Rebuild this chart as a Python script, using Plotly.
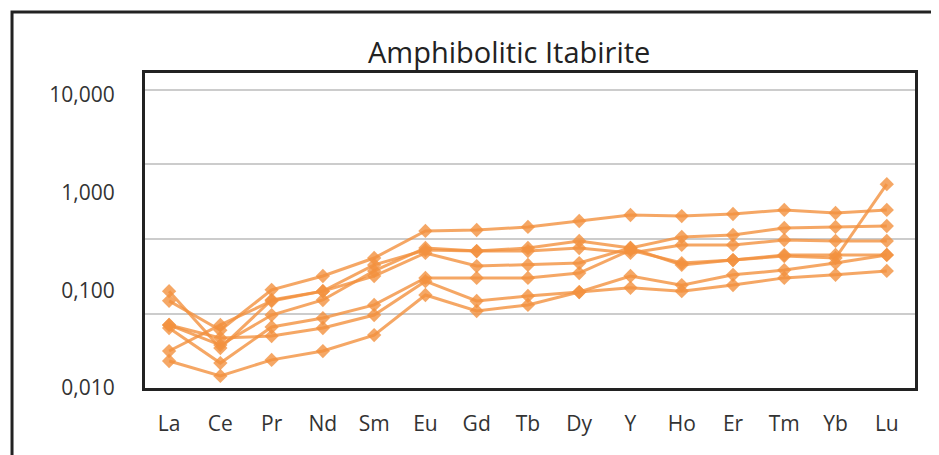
import plotly.graph_objects as go

elements = ["La", "Ce", "Pr", "Nd", "Sm", "Eu", "Gd", "Tb", "Dy", "Y", "Ho", "Er", "Tm", "Yb", "Lu"]

s1 = [0.078, 0.039, 0.101, 0.140, 0.214, 0.405, 0.414, 0.445, 0.512, 0.590, 0.575, 0.604, 0.664, 0.618, 0.664]
s2 = [0.098, 0.0256, 0.0796, 0.098, 0.182, 0.258, 0.252, 0.271, 0.320, 0.271, 0.182, 0.204, 0.224, 0.214, 1.22]
s3 = [0.0442, 0.0275, 0.0558, 0.0796, 0.158, 0.271, 0.252, 0.252, 0.271, 0.241, 0.291, 0.291, 0.327, 0.320, 0.320]
s4 = [0.0239, 0.0442, 0.0777, 0.098, 0.140, 0.241, 0.177, 0.182, 0.190, 0.271, 0.352, 0.368, 0.435, 0.445, 0.455]
s5 = [0.0411, 0.018, 0.0421, 0.052, 0.0708, 0.134, 0.134, 0.134, 0.150, 0.258, 0.190, 0.204, 0.230, 0.230, 0.230]
s6 = [0.0442, 0.0325, 0.034, 0.0411, 0.0558, 0.124, 0.0777, 0.0875, 0.096, 0.140, 0.113, 0.144, 0.161, 0.190, 0.230]
s7 = [0.0189, 0.0133, 0.0194, 0.0239, 0.0348, 0.0895, 0.0614, 0.0708, 0.096, 0.106, 0.098, 0.113, 0.134, 0.144, 0.158]
series = [s1, s2, s3, s4, s5, s6, s7]

y_tickvals = [0.01, 0.1, 1, 10]
y_ticktext = ["0,010", "0,100", "1,000", "10,000"]
title = "Amphibolitic Itabirite"

C = "rgba(243,145,62,0.8)"
FONT = "Open Sans"

fig = go.Figure()
for s in series:
    fig.add_trace(go.Scatter(
        x=elements, y=s, mode="lines+markers",
        line=dict(color=C, width=3),
        marker=dict(symbol="diamond", size=11, color=C, line=dict(width=0)),
        showlegend=False, hoverinfo="x+y"))
# empty trace to carry the gridline axis
fig.add_trace(go.Scatter(x=[], y=[], yaxis="y2", showlegend=False))

W, H = 931, 447  # page body has an 8px margin
fig.update_layout(
    width=W, height=H,
    margin=dict(l=137, r=24, t=65, b=67),
    paper_bgcolor="white", plot_bgcolor="white",
    font=dict(family=FONT, color="#333"),
    xaxis=dict(type="category", range=[-0.47, 14.55], showline=True, mirror=True,
               linecolor="#222", linewidth=3,
               showgrid=False, zeroline=False, ticks="", tickfont=dict(size=21, color="#333"),
               ticklabelstandoff=15),
    yaxis=dict(type="log", range=[-2.0, 1.224], tickvals=y_tickvals, ticktext=y_ticktext,
               showgrid=False, zeroline=False, showline=True, mirror=True,
               linecolor="#222", linewidth=3, ticks="", tickfont=dict(size=21, color="#333"),
               ticklabelstandoff=23),
    yaxis2=dict(type="log", overlaying="y", side="left", range=[-3.0, 1.228], dtick=1,
                showgrid=True, gridcolor="#cccccc", gridwidth=1.5, showticklabels=False,
                ticks="", showline=False, zeroline=False),
    annotations=[dict(text=title, x=(509 - 145) / 770, y=(388 - 51) / 315, xref="paper", yref="paper",
                      showarrow=False, xanchor="center", yanchor="middle",
                      font=dict(size=29, color="#222", family=FONT))],
    shapes=[dict(type="path", xref="paper", yref="paper",
                 path="M -0.1727,-0.3 L -0.1727,1.194 L 1.2,1.194",
                 line=dict(color="#222", width=3), layer="above")],
)

fig.write_html("out.html")
